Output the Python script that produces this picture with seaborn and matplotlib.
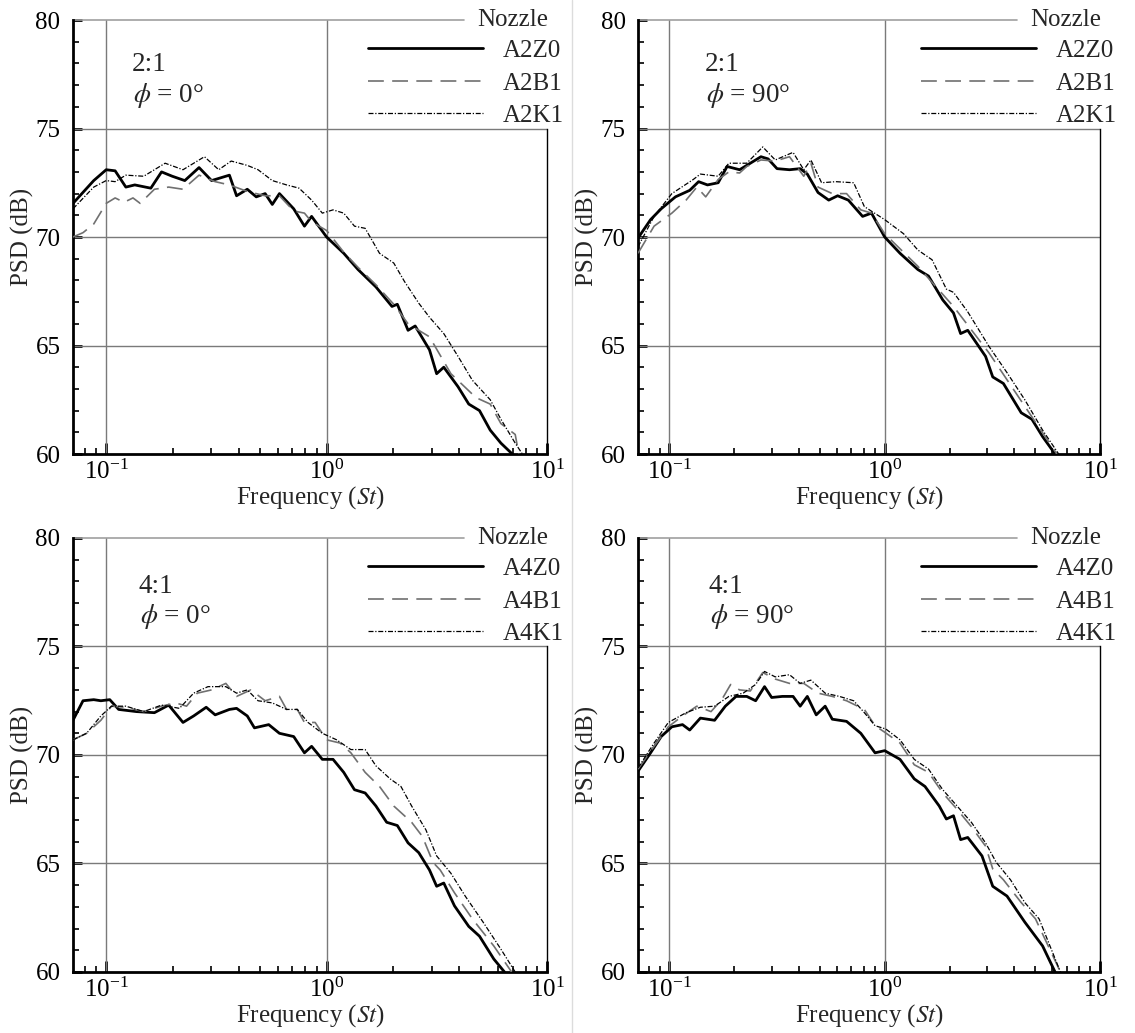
import seaborn as sns
import matplotlib.pyplot as plt
from matplotlib.lines import Line2D
from matplotlib.ticker import LogLocator, MultipleLocator, NullFormatter

# ---- 2:1, phi = 0 ----
st_a2_0_z0 = [0.0707, 0.0878, 0.100, 0.1098, 0.1228, 0.1348, 0.1594, 0.1783, 0.1994, 0.2273, 0.2638, 0.3007,
              0.3623, 0.3904, 0.4366, 0.4796, 0.5263, 0.5671, 0.6109, 0.7092, 0.7934, 0.8551, 1.0, 1.196, 1.389,
              1.674, 1.980, 2.094, 2.342, 2.523, 2.930, 3.157, 3.401, 3.948, 4.416, 4.940, 5.525, 6.180, 7.041]
psd_a2_0_z0 = [71.55, 72.6, 73.1, 73.05, 72.3, 72.4, 72.25, 73.0, 72.8, 72.6, 73.2, 72.6,
               72.85, 71.9, 72.2, 71.85, 72.0, 71.5, 72.0, 71.3, 70.5, 70.95, 70.0, 69.25, 68.5,
               67.7, 66.8, 66.9, 65.7, 65.9, 64.8, 63.7, 64.0, 63.1, 62.3, 62.0, 61.1, 60.5, 59.95]
st_a2_0_b1 = [0.0707, 0.0785, 0.0878, 0.100, 0.1098, 0.1205, 0.1323, 0.1426, 0.1655, 0.1921, 0.2231, 0.2638,
              0.3122, 0.3623, 0.4366, 0.5263, 0.6109, 0.7092, 0.7934, 0.8551, 1.0, 1.196, 1.389, 1.674, 2.017,
              2.342, 2.930, 3.664, 4.759, 5.525, 6.180, 7.174, 7.447]
psd_a2_0_b1 = [70.0, 70.2, 70.6, 71.55, 71.8, 71.6, 71.8, 71.55, 72.2, 72.3, 72.2, 72.85,
               72.55, 72.4, 72.1, 71.9, 71.9, 71.2, 71.1, 70.7, 70.3, 69.3, 68.6, 67.8, 66.9,
               66.0, 65.4, 63.7, 62.6, 62.3, 61.4, 60.9, 60.0]
st_a2_0_k1 = [0.0707, 0.0878, 0.100, 0.1098, 0.1228, 0.1480, 0.1851, 0.2231, 0.2791, 0.3240, 0.3692, 0.4366,
              0.4886, 0.5671, 0.6584, 0.7501, 0.8551, 0.9563, 1.0695, 1.196, 1.338, 1.496, 1.738, 2.017, 2.256,
              2.619, 2.930, 3.401, 3.948, 4.584, 5.525, 6.180, 7.174, 7.731]
psd_a2_0_k1 = [71.3, 72.3, 72.6, 72.55, 72.85, 72.8, 73.4, 73.1, 73.7, 73.1, 73.5, 73.3,
               73.1, 72.6, 72.4, 72.25, 71.7, 71.1, 71.25, 71.1, 70.5, 70.4, 69.25, 68.8, 67.95,
               66.95, 66.3, 65.55, 64.5, 63.4, 62.5, 61.6, 60.5, 60.0]

# ---- 2:1, phi = 90 ----
st_a2_90_z0 = [0.0715, 0.0818, 0.0916, 0.1067, 0.1243, 0.1367, 0.1503, 0.1685, 0.1854, 0.2119, 0.2376, 0.2663,
               0.2874, 0.3162, 0.3613, 0.4051, 0.4372, 0.4902, 0.5497, 0.6046, 0.6778, 0.7896, 0.8685, 1.0,
               1.178, 1.426, 1.598, 1.861, 2.087, 2.252, 2.431, 2.941, 3.176, 3.559, 4.306, 4.828, 5.413, 6.185]
psd_a2_90_z0 = [69.95, 70.8, 71.3, 71.85, 72.15, 72.55, 72.4, 72.5, 73.25, 73.1, 73.4, 73.7,
                73.6, 73.15, 73.1, 73.15, 72.9, 72.05, 71.7, 71.9, 71.7, 70.95, 71.1, 70.0,
                69.25, 68.5, 68.2, 67.1, 66.5, 65.55, 65.7, 64.5, 63.55, 63.25, 61.9, 61.6, 60.8, 60.0]
st_a2_90_b1 = [0.0715, 0.0849, 0.1027, 0.1196, 0.1341, 0.1475, 0.1685, 0.1890, 0.2119, 0.2287, 0.2663, 0.3102,
               0.3613, 0.4209, 0.4543, 0.4902, 0.5710, 0.6651, 0.7746, 0.8685, 1.0, 1.426, 2.087, 3.055,
               4.474, 6.304]
psd_a2_90_b1 = [69.25, 70.5, 71.1, 71.7, 72.3, 71.85, 72.65, 73.0, 72.95, 73.25, 73.55, 73.5,
                73.7, 72.8, 73.4, 72.3, 72.0, 72.0, 71.25, 71.1, 70.15, 68.65, 66.8, 64.65,
                62.2, 60.0]
st_a2_90_k1 = [0.0715, 0.0849, 0.1027, 0.1291, 0.1393, 0.1685, 0.1890, 0.2287, 0.2715, 0.3102, 0.3754, 0.4209,
               0.4543, 0.5093, 0.5932, 0.7177, 0.8047, 1.0, 1.224, 1.426, 1.660, 1.934, 2.087, 2.431,
               3.055, 3.698, 4.474, 5.413, 6.427]
psd_a2_90_k1 = [69.55, 70.95, 72.0, 72.65, 72.9, 72.8, 73.4, 73.4, 74.15, 73.55, 73.9, 73.1,
                73.55, 72.5, 72.55, 72.5, 71.4, 70.8, 70.15, 69.4, 68.95, 67.6, 67.45, 66.55,
                64.95, 63.75, 62.5, 61.1, 60.0]

# ---- 4:1, phi = 0 ----
st_a4_0_z0 = [0.0707, 0.0785, 0.0878, 0.0946, 0.1038, 0.1139, 0.1373, 0.1655, 0.1921, 0.2231, 0.2494, 0.2843,
              0.3122, 0.3623, 0.3904, 0.4366, 0.4706, 0.5463, 0.6109, 0.7092, 0.7934, 0.8551, 0.9563, 1.0695,
              1.196, 1.338, 1.496, 1.674, 1.873, 2.094, 2.342, 2.619, 2.930, 3.157, 3.401, 3.803, 4.416,
              4.940, 5.735, 6.414]
psd_a4_0_z0 = [71.6, 72.5, 72.55, 72.5, 72.55, 72.1, 72.0, 71.95, 72.3, 71.5, 71.8, 72.2,
               71.85, 72.1, 72.15, 71.8, 71.25, 71.4, 71.0, 70.85, 70.1, 70.4, 69.8, 69.8,
               69.2, 68.4, 68.25, 67.65, 66.9, 66.75, 65.95, 65.5, 64.7, 63.95, 64.1, 63.05, 62.1,
               61.65, 60.6, 60.0]
st_a4_0_b1 = [0.0707, 0.0815, 0.0946, 0.1057, 0.1228, 0.1480, 0.1783, 0.2070, 0.2315, 0.2589, 0.3007, 0.3490,
              0.3904, 0.4533, 0.5263, 0.6109, 0.6584, 0.7363, 0.7934, 0.8872, 1.0, 1.152, 1.289, 1.496,
              1.738, 2.017, 2.431, 2.719, 3.041, 3.277, 3.803, 4.584, 5.735, 6.911]
psd_a4_0_b1 = [70.7, 71.0, 71.6, 72.25, 72.2, 72.0, 72.25, 72.4, 72.25, 72.85, 73.0, 73.3,
               72.7, 73.0, 72.5, 72.7, 72.1, 72.1, 71.5, 71.5, 70.7, 70.55, 70.1, 69.2,
               68.55, 67.65, 66.9, 66.25, 65.05, 64.7, 63.65, 62.45, 61.2, 60.0]
st_a4_0_k1 = [0.0707, 0.0815, 0.0946, 0.1057, 0.1228, 0.1480, 0.1783, 0.2149, 0.2494, 0.2897, 0.3490, 0.3904,
              0.4366, 0.4886, 0.5671, 0.6584, 0.7363, 0.8236, 0.9563, 1.110, 1.289, 1.496, 1.674, 1.943,
              2.174, 2.431, 2.822, 3.157, 3.664, 4.254, 5.128, 6.180, 7.174]
psd_a4_0_k1 = [70.7, 71.0, 71.8, 72.25, 72.25, 72.0, 72.3, 72.15, 72.85, 73.15, 73.15, 72.85,
               73.0, 72.5, 72.4, 72.1, 72.1, 71.5, 71.0, 70.7, 70.25, 70.25, 69.5, 68.9,
               68.55, 67.65, 66.55, 65.35, 64.55, 63.5, 62.3, 61.05, 60.0]

# ---- 4:1, phi = 90 ----
st_a4_90_z0 = [0.0715, 0.0818, 0.0916, 0.1027, 0.1151, 0.1243, 0.1393, 0.1622, 0.1819, 0.2040, 0.2287, 0.2516,
               0.2767, 0.2986, 0.3348, 0.3754, 0.4051, 0.4372, 0.4809, 0.5291, 0.5710, 0.6651, 0.7746, 0.9021,
               1.0, 1.178, 1.372, 1.539, 1.792, 1.934, 2.087, 2.252, 2.431, 2.831, 3.176, 3.698, 4.474,
               5.413, 6.185]
psd_a4_90_z0 = [69.25, 70.1, 70.85, 71.3, 71.4, 71.15, 71.7, 71.6, 72.25, 72.7, 72.7, 72.5,
                73.15, 72.65, 72.7, 72.7, 72.25, 72.7, 71.85, 72.25, 71.65, 71.55, 71.0, 70.1,
                70.2, 69.8, 68.9, 68.55, 67.65, 67.05, 67.2, 66.1, 66.2, 65.35, 63.95, 63.5, 62.3,
                61.2, 60.0]
st_a4_90_b1 = [0.0715, 0.0849, 0.0989, 0.1151, 0.1341, 0.1561, 0.1751, 0.1926, 0.2119, 0.2376, 0.2715, 0.3102,
               0.3613, 0.4209, 0.4902, 0.5710, 0.6651, 0.8047, 0.9021, 1.0, 1.178, 1.372, 1.598, 1.861,
               2.168, 2.526, 2.941, 3.176, 3.559, 4.306, 5.015, 6.551]
psd_a4_90_b1 = [69.35, 70.4, 71.3, 71.8, 72.25, 72.0, 72.55, 73.25, 73.0, 72.95, 73.8, 73.5,
                73.3, 73.3, 72.85, 72.7, 72.5, 72.1, 71.35, 71.05, 70.55, 69.55, 69.2, 68.25,
                67.5, 66.7, 65.8, 64.75, 64.25, 63.2, 62.45, 60.0]
st_a4_90_k1 = [0.0715, 0.0849, 0.0989, 0.1196, 0.1393, 0.1622, 0.1890, 0.2202, 0.2516, 0.2767, 0.3102, 0.3613,
               0.4051, 0.4543, 0.5291, 0.6163, 0.7177, 0.8047, 0.9021, 1.0115, 1.178, 1.372, 1.598, 1.861,
               2.168, 2.526, 2.941, 3.298, 3.840, 4.474, 5.211, 6.551]
psd_a4_90_k1 = [69.4, 70.55, 71.5, 71.95, 72.2, 72.25, 72.7, 72.85, 73.25, 73.85, 73.6, 73.7,
                73.3, 73.45, 72.85, 72.7, 72.5, 71.95, 71.35, 71.2, 70.7, 69.8, 69.35, 68.4,
                67.65, 66.9, 65.95, 65.05, 64.25, 63.2, 62.45, 60.0]

ratios = ["2:1", "2:1", "4:1", "4:1"]
angles = ["0", "90", "0", "90"]
nozzles = [["A2Z0", "A2B1", "A2K1"], ["A2Z0", "A2B1", "A2K1"],
           ["A4Z0", "A4B1", "A4K1"], ["A4Z0", "A4B1", "A4K1"]]
st_min = [0.0707, 0.0715, 0.0707, 0.0715]

series = [
    [(st_a2_0_z0, psd_a2_0_z0), (st_a2_0_b1, psd_a2_0_b1), (st_a2_0_k1, psd_a2_0_k1)],
    [(st_a2_90_z0, psd_a2_90_z0), (st_a2_90_b1, psd_a2_90_b1), (st_a2_90_k1, psd_a2_90_k1)],
    [(st_a4_0_z0, psd_a4_0_z0), (st_a4_0_b1, psd_a4_0_b1), (st_a4_0_k1, psd_a4_0_k1)],
    [(st_a4_90_z0, psd_a4_90_z0), (st_a4_90_b1, psd_a4_90_b1), (st_a4_90_k1, psd_a4_90_k1)],
]

styles = [
    dict(color="black", linewidth=2.0, linestyle="-"),
    dict(color="#707070", linewidth=1.2, linestyle=(0, (9.5, 5))),
    dict(color="black", linewidth=0.9, linestyle=(0, (4, 1.4, 1, 1.4))),
]

sns.set_theme(style="ticks")
plt.rcParams["font.family"] = ["Liberation Serif", "DejaVu Serif"]
plt.rcParams["mathtext.fontset"] = "stix"
plt.rcParams["font.size"] = 18

W, H = 1135, 1033
fig = plt.figure(figsize=(W / 100, H / 100), dpi=100)

# panel boxes in pixels: left, top, right, bottom
boxes = [(73, 20, 547, 454), (638, 20, 1100, 454), (73, 538, 547, 972), (638, 538, 1100, 972)]
text_pos = [(0.124, 0.898, 0.126, 0.825), (0.145, 0.898, 0.147, 0.825),
            (0.139, 0.889, 0.141, 0.820), (0.152, 0.889, 0.156, 0.820)]

grid_kw = dict(color="#7a7a7a", linewidth=1.0, zorder=1)

for i, (l, t, r, b) in enumerate(boxes):
    ax = fig.add_axes([l / W, 1 - b / H, (r - l) / W, (b - t) / H])
    ax.set_xscale("log")
    ax.set_xlim(st_min[i], 10)
    ax.set_ylim(60, 80)
    width = r - l

    for xv in (0.1, 1.0):
        ax.axvline(xv, **grid_kw)
    for yv in (65, 70, 75):
        ax.axhline(yv, **grid_kw)
    ax.axhline(80, xmax=1 - 83 / width, color="#a0a0a0", linewidth=1.2, zorder=1, clip_on=False)

    handles = []
    for (st, psd), sty in zip(series[i], styles):
        sns.lineplot(x=st, y=psd, ax=ax, estimator=None, sort=False, zorder=3, **sty)
        handles.append(ax.lines[-1])

    ax.legend(handles, nozzles[i], loc="upper left", bbox_to_anchor=(1 - 179 / width, 0.955),
              frameon=False, handlelength=4.6, handletextpad=0.8, labelspacing=0.40,
              borderaxespad=0, borderpad=0, fontsize=18)
    ax.text(1 - 70 / width, 1.0, "Nozzle", transform=ax.transAxes, va="center", ha="left", fontsize=18)

    tx1, ty1, tx2, ty2 = text_pos[i]
    ax.text(tx1, ty1, ratios[i], transform=ax.transAxes, va="center", ha="left", fontsize=19.5)
    ax.text(tx2, ty2, r"$\phi$ = " + angles[i] + "°", transform=ax.transAxes, va="center", ha="left",
            fontsize=19.5)

    ax.spines["top"].set_visible(False)
    ax.spines["right"].set_bounds(60, 75)
    ax.spines["right"].set_linewidth(1.0)
    ax.spines["left"].set_linewidth(2.0)
    ax.spines["bottom"].set_linewidth(2.0)
    for s in ax.spines.values():
        s.set_color("black")

    ax.xaxis.set_major_locator(LogLocator(base=10, numticks=10))
    ax.xaxis.set_minor_locator(LogLocator(base=10, subs=range(2, 10), numticks=30))
    ax.xaxis.set_minor_formatter(NullFormatter())
    ax.yaxis.set_major_locator(MultipleLocator(5))
    ax.yaxis.set_minor_locator(MultipleLocator(1))
    ax.tick_params(which="both", direction="in", top=False, right=False, colors="black")
    ax.tick_params(axis="x", which="major", length=8, width=2, pad=4, labelsize=18)
    ax.tick_params(axis="x", which="minor", length=4.5, width=1.2)
    ax.tick_params(axis="y", which="major", length=6.5, width=2, pad=9, labelsize=18)
    ax.tick_params(axis="y", which="minor", length=4.5, width=1.2)

    ax.set_xlabel("Frequency ($\\mathit{St}$)", fontsize=18, labelpad=0)
    ax.set_ylabel("PSD (dB)", fontsize=18, labelpad=1)

fig.add_artist(Line2D([572 / W, 572 / W], [0, 1], transform=fig.transFigure, color="#dcdcdc", linewidth=1))

fig.savefig("out.png", dpi=100)
